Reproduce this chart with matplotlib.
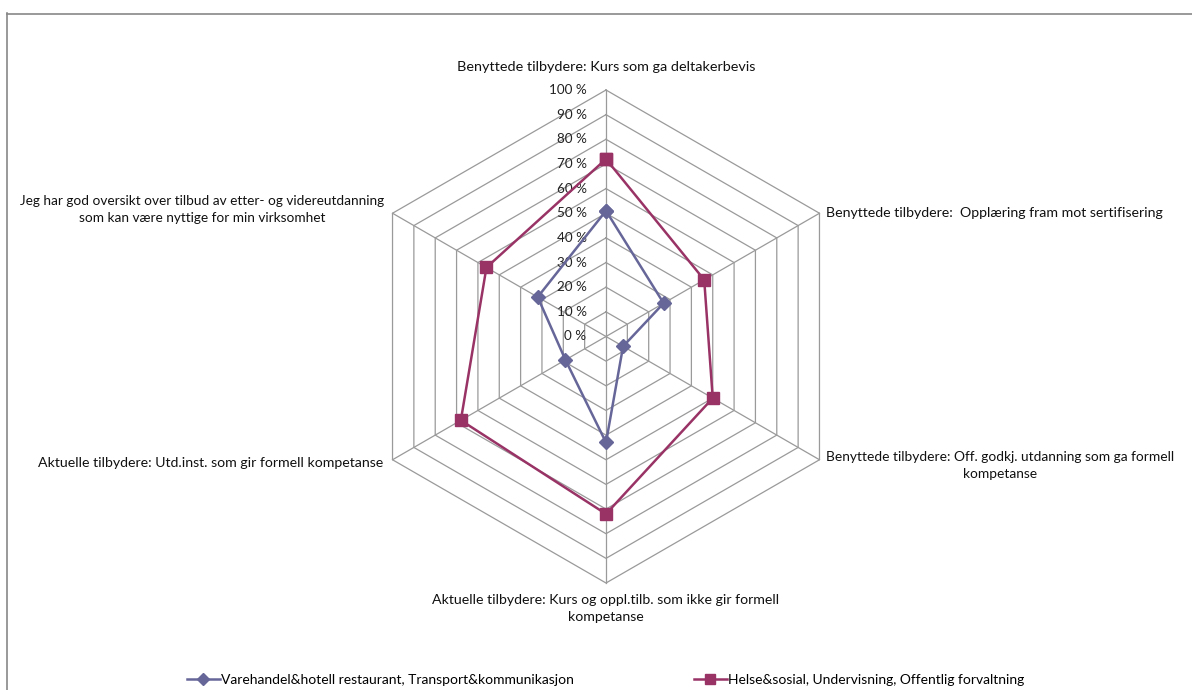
import numpy as np
import matplotlib.pyplot as plt
from matplotlib.lines import Line2D

plt.rcParams['font.family'] = ['Lato', 'DejaVu Sans']

# spokes, clockwise from the top
categories = [
    "Benyttede tilbydere: Kurs som ga deltakerbevis",
    "Benyttede tilbydere:  Opplæring fram mot sertifisering",
    "Benyttede tilbydere: Off. godkj. utdanning som ga formell\nkompetanse",
    "Aktuelle tilbydere: Kurs og oppl.tilb. som ikke gir formell\nkompetanse",
    "Aktuelle tilbydere: Utd.inst. som gir formell kompetanse",
    "Jeg har god oversikt over tilbud av etter- og videreutdanning\nsom kan være nyttige for min virksomhet",
]
series_names = [
    "Varehandel&hotell restaurant, Transport&kommunikasjon",
    "Helse&sosial, Undervisning, Offentlig forvaltning",
]
varehandel = [51, 27, 8, 43, 19, 32]
helse = [72, 46, 50, 72, 68, 56]
ring_levels = [0, 10, 20, 30, 40, 50, 60, 70, 80, 90, 100]
ring_labels = [f"{v} %" for v in ring_levels]

blue = '#666699'
plum = '#993366'
grid_col = '#9a9a9a'

W, H = 1192, 690
fig = plt.figure(figsize=(W / 100, H / 100), dpi=100)
ax = fig.add_axes([0, 0, 1, 1])
ax.set_axis_off()

# chart center and scale (px per unit of 1 %)
cx, cy, scale = 606, 336.5, 2.465
ax.set_xlim(-cx / scale, (W - cx) / scale)
ax.set_ylim((cy - H) / scale, cy / scale)
ax.set_aspect('equal')

n = len(categories)
theta = np.arange(n) * 2 * np.pi / n
sx, sy = np.sin(theta), np.cos(theta)


def to_xy(vals):
    v = np.asarray(vals, float)
    x, y = v * sx, v * sy
    return np.append(x, x[0]), np.append(y, y[0])


# hexagonal grid
for lv in ring_levels[1:]:
    gx, gy = to_xy([lv] * n)
    ax.plot(gx, gy, color=grid_col, lw=0.9, zorder=1)
for i in range(n):
    ax.plot([0, 100 * sx[i]], [0, 100 * sy[i]], color=grid_col, lw=0.9, zorder=1)

# scale labels along the top spoke
for lv, lab in zip(ring_levels, ring_labels):
    ax.annotate(lab, (0, lv), xytext=(-14, 0), textcoords='offset points',
                ha='right', va='center', fontsize=9.7, color='#222222')

# series
x1, y1 = to_xy(varehandel)
ax.plot(x1, y1, color=blue, lw=1.8, marker='D', ms=7, mfc=blue, mec=blue,
        zorder=3)
x2, y2 = to_xy(helse)
ax.plot(x2, y2, color=plum, lw=1.8, marker='s', ms=8, mfc=plum, mec=plum,
        zorder=4)

# category labels at the spoke tips: offset, alignment, size
label_fmt = [((0, 12), 'center', 'bottom', 10.4),
             ((5, 0), 'left', 'center', 10.2),
             ((5, -4), 'left', 'center', 9.9),
             ((0, -8), 'center', 'top', 10.2),
             ((-7, -2), 'right', 'center', 10.2),
             ((-6, 3), 'right', 'center', 9.8)]
for i, lab in enumerate(categories):
    off, ha, va, fs = label_fmt[i]
    ax.annotate(lab, (100 * sx[i], 100 * sy[i]), xytext=off,
                textcoords='offset points', ha=ha, va=va, fontsize=fs,
                multialignment='center', color='#111111', linespacing=1.5)

# chart frame (open on the right and bottom)
fig.add_artist(Line2D([7.5 / W, 7.5 / W], [0, 1 - 13 / H], color='#888888',
                      lw=1.2, transform=fig.transFigure))
fig.add_artist(Line2D([7 / W, 1], [1 - 13.5 / H, 1 - 13.5 / H], color='#888888',
                      lw=1.2, transform=fig.transFigure))

handles = [Line2D([], [], color=blue, lw=1.8, marker='D', ms=6),
           Line2D([], [], color=plum, lw=1.8, marker='s', ms=7)]
fig.legend(handles, series_names, loc='center', bbox_to_anchor=(0.508, 1 - 680 / H),
           ncol=2, frameon=False, handlelength=2.4, handletextpad=0.1,
           columnspacing=8.6, prop={'size': 10})

fig.savefig('out.png', dpi=100)
